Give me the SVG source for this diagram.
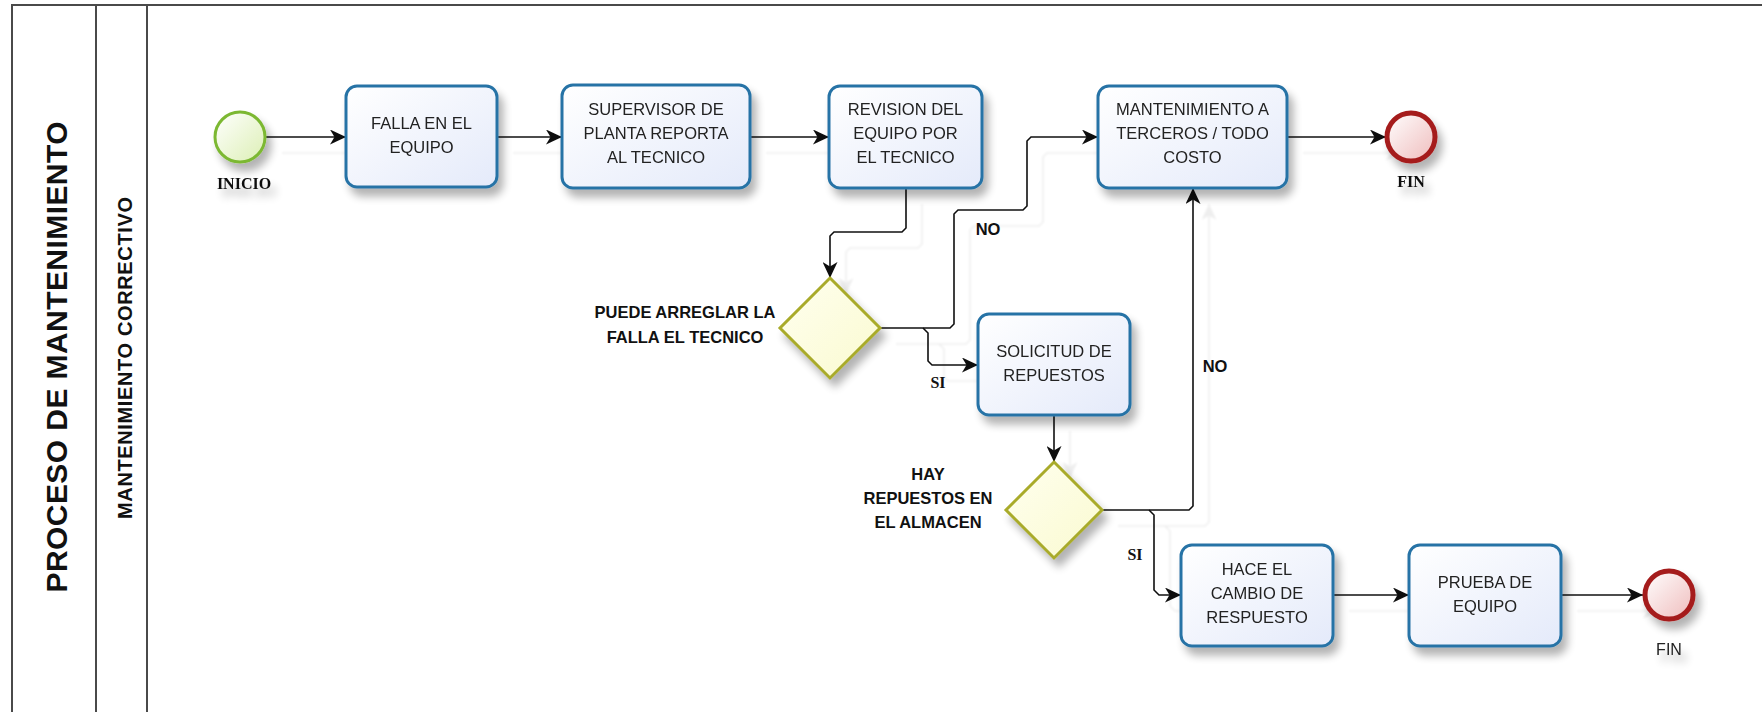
<svg xmlns="http://www.w3.org/2000/svg" width="1762" height="712" viewBox="0 0 1762 712">
  <style>
    .frame { fill: none; stroke: #4a4a4a; stroke-width: 2; }
    .task { fill: url(#gTask); stroke: #2873a6; stroke-width: 3; }
    .tasktxt { font-family: "Liberation Sans", Arial, sans-serif; font-size: 16.5px; fill: #222; text-anchor: middle; }
    .gate { fill: url(#gGate); stroke: #a9ab2c; stroke-width: 3; }
    .lbl { font-family: "Liberation Sans", Arial, sans-serif; font-weight: bold; font-size: 16.5px; fill: #111; text-anchor: middle; }
    .slbl { font-family: "Liberation Serif", "Times New Roman", serif; font-weight: bold; font-size: 16px; fill: #111; text-anchor: middle; }
    .flow { fill: none; stroke: #111; stroke-width: 1.6; marker-end: url(#arrow); }
  </style>
  <defs>
    <linearGradient id="gTask" x1="0" y1="0" x2="1" y2="1">
      <stop offset="0" stop-color="#ffffff"/>
      <stop offset="1" stop-color="#e4eafa"/>
    </linearGradient>
    <linearGradient id="gGate" x1="0" y1="0" x2="1" y2="1">
      <stop offset="0" stop-color="#ffffef"/>
      <stop offset="1" stop-color="#fafad0"/>
    </linearGradient>
    <linearGradient id="gStart" x1="0" y1="0" x2="1" y2="1">
      <stop offset="0" stop-color="#ffffff"/>
      <stop offset="1" stop-color="#dcefb4"/>
    </linearGradient>
    <linearGradient id="gEnd" x1="0" y1="0" x2="1" y2="1">
      <stop offset="0" stop-color="#ffffff"/>
      <stop offset="1" stop-color="#efbcbc"/>
    </linearGradient>
    <filter id="shadow" x="-20%" y="-20%" width="150%" height="160%">
      <feGaussianBlur in="SourceAlpha" stdDeviation="4"/>
      <feOffset dx="5" dy="8" result="b"/>
      <feComponentTransfer in="b" result="s"><feFuncA type="linear" slope="0.3"/></feComponentTransfer>
      <feMerge><feMergeNode in="s"/><feMergeNode in="SourceGraphic"/></feMerge>
    </filter>
    <filter id="ghost" x="-5%" y="-5%" width="115%" height="115%">
      <feGaussianBlur in="SourceAlpha" stdDeviation="0.8"/>
      <feOffset dx="16" dy="16" result="b"/>
      <feComponentTransfer in="b" result="s"><feFuncA type="linear" slope="0.07"/></feComponentTransfer>
      <feMerge><feMergeNode in="s"/><feMergeNode in="SourceGraphic"/></feMerge>
    </filter>
    <marker id="arrow" markerUnits="userSpaceOnUse" markerWidth="17" markerHeight="15" refX="16" refY="7.5" orient="auto">
      <path d="M0,0 L16,7.5 L0,15 L4.5,7.5 Z" fill="#111"/>
    </marker>
  </defs>

  <rect width="1762" height="712" fill="#ffffff"/>

  <!-- pool and lane frame -->
  <g id="pool">
    <path class="frame" d="M12,712 V5 H1762"/>
    <path class="frame" d="M96,5 V712 M147,5 V712" stroke="#666"/>
    <text transform="translate(67,357) rotate(-90)" font-family="'Liberation Sans', Arial, sans-serif" font-weight="bold" font-size="30" text-anchor="middle" textLength="471" lengthAdjust="spacing" fill="#111">PROCESO DE MANTENIMIENTO</text>
    <text transform="translate(132,358) rotate(-90)" font-family="'Liberation Sans', Arial, sans-serif" font-weight="bold" font-size="20" text-anchor="middle" textLength="322" lengthAdjust="spacing" fill="#111">MANTENIMIENTO CORRECTIVO</text>
  </g>

  <!-- sequence flows, with their faint offset ghost -->
  <g id="connectors">
    <g filter="url(#ghost)">
      <path class="flow" d="M266,137 H346"/>
      <path class="flow" d="M497,137 H562"/>
      <path class="flow" d="M750,137 H829"/>
      <path class="flow" d="M906,188 V228 L902,232 H834 L830,236 V278"/>
      <path class="flow" d="M880,328 H950 L954,324 V214 L958,210 H1023 L1027,206 V141 L1031,137 H1098"/>
      <path class="flow" d="M923,328 L928,333 V361 L932,365 H978"/>
      <path class="flow" d="M1287,137 H1386"/>
      <path class="flow" d="M1054,415 V462"/>
      <path class="flow" d="M1102,510 H1189 L1193,506 V188"/>
      <path class="flow" d="M1149,510 L1154,515 V590 L1159,595 H1181"/>
      <path class="flow" d="M1333,595 H1409"/>
      <path class="flow" d="M1561,595 H1643"/>
    </g>
    <text class="lbl" x="988" y="235" font-size="17">NO</text>
    <text class="slbl" x="938" y="388">SI</text>
    <text class="lbl" x="1215" y="372" font-size="17">NO</text>
    <text class="slbl" x="1135" y="560">SI</text>
  </g>

  <g id="inicio" filter="url(#shadow)">
    <circle cx="240" cy="137" r="25" fill="url(#gStart)" stroke="#7cb832" stroke-width="3"/>
    <text class="slbl" x="244" y="189">INICIO</text>
  </g>

  <g id="falla" filter="url(#shadow)">
    <rect class="task" x="346" y="86" width="151" height="101" rx="11"/>
    <text class="tasktxt" x="421.5" y="129">FALLA EN EL</text>
    <text class="tasktxt" x="421.5" y="153">EQUIPO</text>
  </g>

  <g id="supervisor" filter="url(#shadow)">
    <rect class="task" x="562" y="85" width="188" height="103" rx="11"/>
    <text class="tasktxt" x="656" y="115">SUPERVISOR DE</text>
    <text class="tasktxt" x="656" y="139">PLANTA REPORTA</text>
    <text class="tasktxt" x="656" y="163">AL TECNICO</text>
  </g>

  <g id="revision" filter="url(#shadow)">
    <rect class="task" x="829" y="86" width="153" height="102" rx="11"/>
    <text class="tasktxt" x="905.5" y="115">REVISION DEL</text>
    <text class="tasktxt" x="905.5" y="139">EQUIPO POR</text>
    <text class="tasktxt" x="905.5" y="163">EL TECNICO</text>
  </g>

  <g id="terceros" filter="url(#shadow)">
    <rect class="task" x="1098" y="86" width="189" height="102" rx="11"/>
    <text class="tasktxt" x="1192.5" y="115">MANTENIMIENTO A</text>
    <text class="tasktxt" x="1192.5" y="139">TERCEROS / TODO</text>
    <text class="tasktxt" x="1192.5" y="163">COSTO</text>
  </g>

  <g id="fin1" filter="url(#shadow)">
    <circle cx="1411" cy="137" r="24" fill="url(#gEnd)" stroke="#a51d1d" stroke-width="5"/>
    <text class="slbl" x="1411" y="187" font-size="17">FIN</text>
  </g>

  <g id="puede-arreglar">
    <path class="gate" d="M830,278 L880,328 L830,378 L780,328 Z" filter="url(#shadow)"/>
    <text class="lbl" x="685" y="318">PUEDE ARREGLAR LA</text>
    <text class="lbl" x="685" y="343">FALLA EL TECNICO</text>
  </g>

  <g id="solicitud" filter="url(#shadow)">
    <rect class="task" x="978" y="314" width="152" height="101" rx="11"/>
    <text class="tasktxt" x="1054" y="357">SOLICITUD DE</text>
    <text class="tasktxt" x="1054" y="381">REPUESTOS</text>
  </g>

  <g id="hay-repuestos">
    <path class="gate" d="M1054,462 L1102,510 L1054,558 L1006,510 Z" filter="url(#shadow)"/>
    <text class="lbl" x="928" y="480">HAY</text>
    <text class="lbl" x="928" y="504">REPUESTOS EN</text>
    <text class="lbl" x="928" y="528">EL ALMACEN</text>
  </g>

  <g id="cambio" filter="url(#shadow)">
    <rect class="task" x="1181" y="545" width="152" height="101" rx="11"/>
    <text class="tasktxt" x="1257" y="575">HACE EL</text>
    <text class="tasktxt" x="1257" y="599">CAMBIO DE</text>
    <text class="tasktxt" x="1257" y="623">RESPUESTO</text>
  </g>

  <g id="prueba" filter="url(#shadow)">
    <rect class="task" x="1409" y="545" width="152" height="101" rx="11"/>
    <text class="tasktxt" x="1485" y="588">PRUEBA DE</text>
    <text class="tasktxt" x="1485" y="612">EQUIPO</text>
  </g>

  <g id="fin2" filter="url(#shadow)">
    <circle cx="1669" cy="595" r="24" fill="url(#gEnd)" stroke="#a51d1d" stroke-width="5"/>
    <text x="1669" y="655" font-family="'Liberation Sans', Arial, sans-serif" font-size="16" fill="#222" text-anchor="middle">FIN</text>
  </g>
</svg>
